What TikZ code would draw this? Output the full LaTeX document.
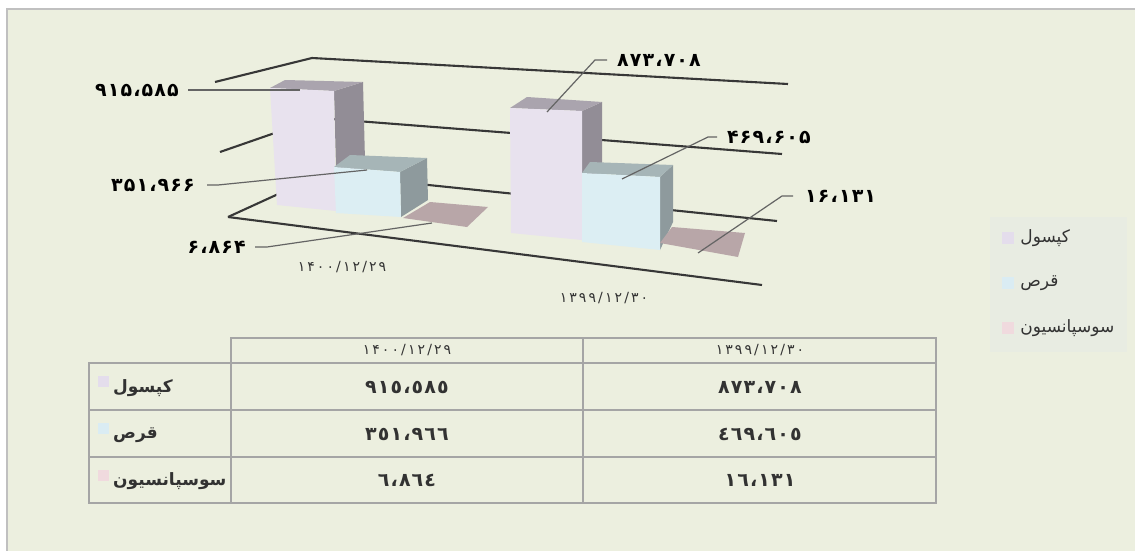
\documentclass[tikz,border=0pt]{standalone}
\usepackage{fontspec}
\usetikzlibrary{positioning}
\TeXXeTstate=1
\newfontfamily\arabicfont[Script=Arabic]{DejaVu Sans}
\newfontfamily\numfont[Script=Arabic, LetterSpace=6]{DejaVu Sans}
\newfontfamily\datefont[Script=Arabic, LetterSpace=15]{DejaVu Sans}
\definecolor{panel}{RGB}{236,239,223}
\definecolor{legendbg}{RGB}{232,236,226}
\definecolor{frame}{RGB}{192,192,192}
\definecolor{gridc}{RGB}{55,55,55}
\definecolor{leaderc}{RGB}{100,100,100}
\definecolor{tablec}{RGB}{165,165,165}
\definecolor{darktxt}{RGB}{50,50,50}
\definecolor{capfront}{RGB}{232,226,238}
\definecolor{captop}{RGB}{170,164,174}
\definecolor{capside}{RGB}{146,141,150}
\definecolor{tabfront}{RGB}{220,238,243}
\definecolor{tabtop}{RGB}{166,181,183}
\definecolor{tabside}{RGB}{142,154,157}
\definecolor{suspface}{RGB}{184,166,168}
\definecolor{capkey}{RGB}{228,221,236}
\definecolor{tabkey}{RGB}{218,236,243}
\definecolor{suspkey}{RGB}{240,218,222}

\begin{document}
\begin{tikzpicture}
    [x=1pt, y=-1pt,
    gridline/.style={draw=gridc, line width=2.1pt, line join=round},
    leader/.style={draw=leaderc, line width=1.2pt},
    vallabel/.style={font=\numfont\bfseries\fontsize{19}{22}\selectfont, inner sep=0pt},
    catlabel/.style={font=\datefont\fontsize{14}{16}\selectfont, text=darktxt, inner sep=0pt},
    cellval/.style={font=\numfont\bfseries\fontsize{19}{21}\selectfont, text=darktxt, inner sep=0pt},
    celldate/.style={font=\datefont\fontsize{14}{16}\selectfont, text=darktxt, inner sep=0pt},
    rowname/.style={font=\arabicfont\bfseries\fontsize{17}{19}\selectfont, text=darktxt, inner sep=0pt, anchor=west},
    keybox/.style={minimum size=12pt, inner sep=0pt},
    keytext/.style={font=\arabicfont\fontsize{17}{19}\selectfont, text=darktxt, inner sep=0pt, anchor=west},
    tabrule/.style={draw=tablec, line width=1.5pt}]
     \useasboundingbox (0,0) rectangle (1135,551);
     \fill[panel] (7,9) rectangle (1135,551);
     \draw[frame, line width=2pt] (1135,9) -- (7,9) -- (7,551);
     % walls and floor
     \draw[gridline] (215,82) -- (312,58) -- (788,84);
     \draw[gridline] (220,152) -- (318,118) -- (782,154);
     \draw[gridline] (228,217) -- (322,174) -- (777,221);
     \draw[gridline] (228,217) -- (762,285);
     % first date
     \fill[capside] (334,91) -- (363,82) -- (366,200) -- (337,205) -- cycle;
     \fill[captop] (270,88) -- (334,91) -- (363,82) -- (285,80) -- cycle;
     \fill[capfront] (270,88) -- (334,91) -- (336,211) -- (277,205) -- cycle;
     \fill[tabside] (400,172) -- (427,158) -- (428,200) -- (401,217) -- cycle;
     \fill[tabtop] (334,167) -- (400,172) -- (427,158) -- (350,155) -- cycle;
     \fill[tabfront] (334,167) -- (400,172) -- (401,217) -- (336,213) -- cycle;
     \fill[suspface] (403,218) -- (467,227) -- (488,207) -- (430,202) -- cycle;
     % second date
     \fill[capside] (582,111) -- (602,102) -- (602,200) -- (582,210) -- cycle;
     \fill[captop] (510,108) -- (582,111) -- (602,102) -- (527,97) -- cycle;
     \fill[capfront] (510,108) -- (582,111) -- (582,240) -- (511,233) -- cycle;
     \fill[tabside] (660,177) -- (673,165) -- (673,222) -- (660,250) -- cycle;
     \fill[tabtop] (582,173) -- (660,177) -- (673,165) -- (590,162) -- cycle;
     \fill[tabfront] (582,173) -- (660,177) -- (660,250) -- (582,242) -- cycle;
     \fill[suspface] (660,243) -- (738,257) -- (745,233) -- (672,227) -- cycle;
     % leader ends
     \coordinate (capA) at (300,90);
     \coordinate (tabA) at (367,170);
     \coordinate (suspA) at (432,223);
     \coordinate (capB) at (547,112);
     \coordinate (tabB) at (622,179);
     \coordinate (suspB) at (698,253);
     % value labels
     \node[vallabel, anchor=east] (vcapA)  at (179,90)  {۹۱۵،۵۸۵};
     \node[vallabel, anchor=east] (vtabA)  at (195,185) {۳۵۱،۹۶۶};
     \node[vallabel, anchor=east] (vsuspA) at (246,247) {۶،۸۶۴};
     \node[vallabel, anchor=west] (vcapB)  at (617,60)  {۸۷۳،۷۰۸};
     \node[vallabel, anchor=west] (vtabB)  at (727,137) {۴۶۹،۶۰۵};
     \node[vallabel, anchor=west] (vsuspB) at (805,196) {۱۶،۱۳۱};
     \draw[leader] ([xshift=9pt]vcapA.east) -- (capA);
     \draw[leader] ([xshift=12pt]vtabA.east) -- ++(11,0) -- (tabA);
     \draw[leader] ([xshift=9pt]vsuspA.east) -- ++(12,0) -- (suspA);
     \draw[leader] ([xshift=-10pt]vcapB.west) -- ++(-12,0) -- (capB);
     \draw[leader] ([xshift=-10pt]vtabB.west) -- ++(-9,0) -- (tabB);
     \draw[leader] ([xshift=-12pt]vsuspB.west) -- ++(-11,0) -- (suspB);
     \node[catlabel] (dateA) at (342,267) {۱۴۰۰/۱۲/۲۹};
     \node[catlabel] (dateB) at (604,298) {۱۳۹۹/۱۲/۳۰};
     % legend
     \fill[legendbg] (990,217) rectangle (1127,352);
     \node[keybox, fill=capkey]  (kcap)  at (1008,238) {};
     \node[keybox, fill=tabkey]  (ktab)  at (1008,283) {};
     \node[keybox, fill=suspkey] (ksusp) at (1008,328) {};
     \node[keytext, right=6pt of kcap]  (tcap)  {\beginR کپسول\endR};
     \node[keytext, right=6pt of ktab]  (ttab)  {\beginR قرص\endR};
     \node[keytext, right=6pt of ksusp] (tsusp) {\beginR سوسپانسیون\endR};
     % table
     \draw[tabrule] (231,338) rectangle (936,363);
     \draw[tabrule] (89,363) rectangle (936,503);
     \draw[tabrule] (89,410) -- (936,410);
     \draw[tabrule] (89,457) -- (936,457);
     \draw[tabrule] (231,363) -- (231,503);
     \draw[tabrule] (583,338) -- (583,503);
     \node[celldate] (hA) at (407,350) {۱۴۰۰/۱۲/۲۹};
     \node[celldate] (hB) at (760,350) {۱۳۹۹/۱۲/۳۰};
     \node[keybox, minimum size=11pt, fill=capkey]  (rkcap)  at (103,381) {};
     \node[keybox, minimum size=11pt, fill=tabkey]  (rktab)  at (103,428) {};
     \node[keybox, minimum size=11pt, fill=suspkey] (rksusp) at (103,475) {};
     \node[rowname] (rcap)  at (113,388) {\beginR کپسول\endR};
     \node[rowname] (rtab)  at (113,435) {\beginR قرص\endR};
     \node[rowname] (rsusp) at (113,481) {\beginR سوسپانسیون\endR};
     \node[cellval] (cA1) at (407,387) {٩١٥،٥٨٥};
     \node[cellval] (cA2) at (407,434) {٣٥١،٩٦٦};
     \node[cellval] (cA3) at (407,480) {٦،٨٦٤};
     \node[cellval] (cB1) at (760,387) {٨٧٣،٧٠٨};
     \node[cellval] (cB2) at (760,434) {٤٦٩،٦٠٥};
     \node[cellval] (cB3) at (760,480) {١٦،١٣١};
\end{tikzpicture}
\end{document}
